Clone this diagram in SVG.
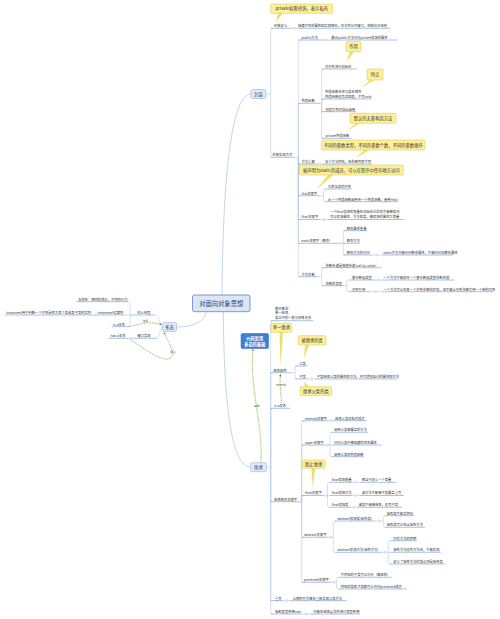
<svg xmlns="http://www.w3.org/2000/svg" width="500" height="619" viewBox="0 0 500 619">
<defs>
<marker id="ah" viewBox="0 0 6 6" refX="5" refY="3" markerWidth="4" markerHeight="4" orient="auto"><path d="M0,0 L6,3 L0,6 z" fill="#5f8a2a"/></marker>
<g id="mi"><circle r="1.2" fill="#fff" stroke="#9aa4b0" stroke-width="0.3"/><path d="M-0.6,0H0.6" stroke="#8a939e" stroke-width="0.3"/></g>
<style>
text{font-family:"Noto Sans CJK SC","Noto Sans",sans-serif;fill:#333}
.t{font-size:3.3px}
.ct{font-size:4.3px;text-anchor:middle}
.nt{font-size:4.4px;fill:#2d4d7c;text-anchor:middle}
.rl{font-size:2.8px;fill:#4a6a20;text-anchor:middle}
.u{stroke:#5d92d4;stroke-width:0.55;fill:none}
.b{stroke:#a9c3e3;stroke-width:0.5;fill:none}
.co{fill:#fcf09a;stroke:#e2c040;stroke-width:0.5}
.tl{fill:#f3dc60;stroke:none}
.nd{fill:#e0eaf7;stroke:#86a6d4;stroke-width:0.5}
.rel{stroke:#5f8a2a;stroke-width:0.6;stroke-dasharray:1.2 0.8;fill:none;marker-end:url(#ah)}
</style>
</defs>
<rect width="500" height="619" fill="#fff"/>

<g id="connectors">
<path class="b" style="stroke-width:0.7" d="M222,295 C223,170 232,94 251,94"/>
<path class="b" style="stroke-width:0.7" d="M206.7,311.7 C203,324 190,327 176.5,327"/>
<path class="b" style="stroke-width:0.7" d="M223.3,311.7 C224,420 234,467 250.5,467"/>
<path class="b" d="M266,94 H270.7 M270.7,94 V30.3 Q270.7,28.3 272.7,28.3 M270.7,94 V155.3 Q270.7,157.3 272.7,157.3 M291.7,28.3 H296.7"/>
<path class="b" d="M295,157.3 H298.3 M298.3,157.3 V42 Q298.3,40 300.3,40 M298.3,157.3 V105.3 Q298.3,103.3 300.3,103.3 M298.3,157.3 V162 Q298.3,164 300.3,164 M298.3,157.3 V193.7 Q298.3,195.7 300.3,195.7 M298.3,157.3 V217.5 Q298.3,219.5 300.3,219.5 M298.3,157.3 V241.3 Q298.3,243.3 300.3,243.3 M298.3,157.3 V274.7 Q298.3,276.7 300.3,276.7"/>
<path class="b" d="M324,40 H329 M320,103.3 H321.7 M321.7,103.3 V71 Q321.7,69 323.7,69 M321.7,103.3 V101 Q321.7,99 323.7,99 M321.7,103.3 V109.7 Q321.7,111.7 323.7,111.7 M321.7,103.3 V136.3 Q321.7,138.3 323.7,138.3 M316.7,164 H322.5"/>
<path class="b" d="M320,195.7 H323.5 M323.5,195.7 V191 Q323.5,189 325.5,189 M323.5,195.7 V199.7 Q323.5,201.7 325.5,201.7 M320,219.5 H328"/>
<path class="b" d="M338,243.3 H345 M343.3,243.3 V232.7 Q343.3,230.7 345.3,230.7 M343.3,243.3 V253 Q343.3,255 345.3,255 M372.7,255 H381.5"/>
<path class="b" d="M318.3,276.7 H321.7 M321.7,276.7 V269.7 Q321.7,267.7 323.7,267.7 M321.7,276.7 V283.7 Q321.7,285.7 323.7,285.7 M343.3,285.7 H346.7 M346.7,285.7 V282 Q346.7,280 348.7,280 M346.7,285.7 V289.7 Q346.7,291.7 348.7,291.7 M375,280 H381.5 M370,291.7 H381.5"/>
<path class="b" d="M162.5,327 C159.5,327 159.5,315 155,315 M162.5,327 C159.5,327 159.5,338.3 156.7,338.3 M134,315 H124.5 M130,315 V303.7 Q130,301.7 128.3,301.7 M130,315 V324.7 Q130,326.7 128.3,326.7 M96.5,315 H93.3 M134,338.3 H128.5"/>
<path class="b" d="M266.5,467 H270.7 M270.7,467 V322.7 Q270.7,320.7 272.7,320.7 M270.7,467 V374.7 Q270.7,372.7 272.7,372.7 M270.7,467 V410.3 Q270.7,408.3 272.7,408.3 M270.7,467 V499.7 Q270.7,501.7 272.7,501.7 M270.7,467 V598.7 Q270.7,600.7 272.7,600.7 M270.7,467 V612 Q270.7,614 272.7,614"/>
<path class="b" d="M291.7,372.7 H295 M295,372.7 V368 Q295,366 297,366 M295,372.7 V377 Q295,379 297,379 M308.3,379 H315"/>
<path class="b" d="M298.3,501.7 H301.7 M301.7,501.7 V422.7 Q301.7,420.7 303.7,420.7 M301.7,501.7 V447 Q301.7,445 303.7,445 M301.7,501.7 V497.5 Q301.7,495.5 303.7,495.5 M301.7,501.7 V535.3 Q301.7,537.3 303.7,537.3 M301.7,501.7 V580.3 Q301.7,582.3 303.7,582.3"/>
<path class="b" d="M328.3,420.7 H332.7 M325,445 H331.7 M330,445 V434.3 Q330,432.3 332,432.3 M330,445 V454.7 Q330,456.7 332,456.7"/>
<path class="b" d="M323.3,495.5 H329 M327.5,495.5 V484.3 Q327.5,482.3 329.5,482.3 M327.5,495.5 V505.3 Q327.5,507.3 329.5,507.3 M352.5,482.3 H360 M352.5,495.5 H360 M351,507.3 H357"/>
<path class="b" d="M328.3,537.3 H333.3 M333.3,537.3 V523 Q333.3,521 335.3,521 M333.3,537.3 V550.3 Q333.3,552.3 335.3,552.3 M375,521 H383.3 M383.3,521 V517.7 Q383.3,515.7 385.3,515.7 M383.3,521 V525.3 Q383.3,527.3 385.3,527.3"/>
<path class="b" d="M381.7,552.3 H390 M388.3,552.3 V542.7 Q388.3,540.7 390.3,540.7 M388.3,552.3 V562 Q388.3,564 390.3,564 M331.7,582.3 H336.5 M336.5,582.3 V579.3 Q336.5,577.3 338.5,577.3 M336.5,582.3 V587 Q336.5,589 338.5,589 M283.3,600.7 H290 M302.5,614 H310"/>
<path class="rel" d="M128.5,326.7 C140,324 150,321 161.5,324.5"/>
<path class="rel" d="M130,339 C148,352 166,364 171.5,357 C175,351 167,340 164,332.5"/>
<path class="rel" d="M260.7,462.7 C264,430 249,385 253,349.3"/>
<path class="rel" d="M281,403 C282,395 279,385 280.5,374.5"/>
<text class="rl" x="145.5" y="322.3">继承</text>
<text class="rl" x="172.8" y="352.6">组合</text>
<text class="rl" x="256.8" y="406.6">基础</text>
<text class="rl" x="281" y="386.2">extends</text>
</g>

<g id="n-root"><rect x="192.5" y="295" width="57.5" height="16.7" rx="2" fill="#dbe6f4" stroke="#5b84c4" stroke-width="0.8"/><text x="221.2" y="305.6" style="font-size:6.3px;fill:#2a4675;text-anchor:middle">对面向对象思想</text></g>

<g id="n-fengzhuang"><rect class="nd" x="251" y="89.5" width="15" height="9" rx="1.5"/><text class="nt" x="258.5" y="95.6">封装</text></g>
<g id="n-duotai"><rect class="nd" x="162.5" y="322.5" width="14" height="9" rx="1.5"/><text class="nt" x="169.5" y="328.6">多态</text></g>
<g id="n-jicheng"><rect class="nd" x="250.5" y="462.7" width="16" height="9" rx="1.5"/><text class="nt" x="258.5" y="468.8">继承</text></g>
<g id="n-blue"><rect x="241" y="333.5" width="27.5" height="15" rx="1.5" fill="#3f7fd1" stroke="#2f69b8" stroke-width="0.5"/><text x="254.7" y="340" style="font-size:4.2px;fill:#fff;text-anchor:middle;font-weight:bold">代码复用</text><text x="254.7" y="345.8" style="font-size:4.2px;fill:#fff;text-anchor:middle;font-weight:bold">多态的基础</text></g>

<g id="callouts">
<g id="c1"><path class="tl" d="M278,13.3 L283,13.3 L276,21.5 z"/><rect class="co" x="270.7" y="4" width="62" height="9.3" rx="1"/><text class="ct" x="301.7" y="10.2">private权限修饰，表示私有</text></g>
<g id="c2"><path class="tl" d="M350,51.7 L354,51.7 L346.5,62 z"/><rect class="co" x="346" y="41.7" width="15" height="10" rx="1"/><text class="ct" x="353.5" y="48.2">作用</text></g>
<g id="c3"><path class="tl" d="M370,80 L374,80 L361,88 z"/><rect class="co" x="367" y="69" width="16" height="11" rx="1"/><text class="ct" x="375" y="76">特点</text></g>
<g id="c4"><path class="tl" d="M356,123.3 L360,123.3 L347,131 z"/><rect class="co" x="350" y="113.3" width="46" height="10" rx="1"/><text class="ct" x="373" y="119.8">默认的无参构造方法</text></g>
<g id="c5"><path class="tl" d="M364,150 L369,150 L356,158 z"/><rect class="co" x="321.7" y="140" width="103.3" height="10" rx="1"/><text class="ct" x="373.35" y="146.5">不同的参数类型，不同的参数个数，不同的参数顺序</text></g>
<g id="c6"><path class="tl" d="M328,175 L333,175 L316,190 z"/><rect class="co" x="299.3" y="165" width="104" height="10" rx="1"/><text class="ct" x="351.3" y="171.5">被声明为static的成员，可以在程序中任何地方访问</text></g>
<g id="c7"><path class="tl" d="M279.5,332.3 L283,332.3 L280.5,366 z"/><rect class="co" x="271" y="323.3" width="20.7" height="9" rx="1"/><text class="ct" x="281.35" y="329.3">单一继承</text></g>
<g id="c8"><path class="tl" d="M305,345 L309,345 L304,358 z"/><rect class="co" x="298.3" y="335.7" width="27.7" height="9.3" rx="1"/><text class="ct" x="312.15" y="341.9">被继承的类</text></g>
<g id="c9"><path class="tl" d="M305,386.7 L309,386.7 L304,381.5 z"/><rect class="co" x="300" y="386.7" width="31.7" height="9" rx="1"/><text class="ct" x="315.85" y="392.7">继承父类的类</text></g>
<g id="c10"><path class="tl" d="M311.5,468.3 L315,468.3 L313,489 z"/><rect class="co" x="302.3" y="460" width="22.7" height="8.3" rx="1"/><text class="ct" x="313.65" y="465.7">阻止继承</text></g>
</g>

<g id="topics">
<g id="t1"><path class="u" d="M270.7,28.3H291.7"/><text class="t" x="274" y="27.2">封装定义</text><use href="#mi" x="294.2" y="28.3"/></g>
<g id="t1a"><path class="u" d="M296.7,28.3H390"/><text class="t" x="298" y="27.2">隐藏对象的属性和实现细节，仅对外公开接口，控制访问级别</text></g>
<g id="t2"><path class="u" d="M270.7,157.3H295"/><text class="t" x="272.5" y="156.2">封装实现方式</text></g>
<g id="t3"><path class="u" d="M298.3,40H324"/><text class="t" x="301.5" y="38.9">public方法</text><use href="#mi" x="326.5" y="40"/></g>
<g id="t4"><path class="u" d="M329,40H398"/><text class="t" x="331" y="38.9">通过public方法访问private修饰的属性</text></g>
<g id="t5"><path class="u" d="M298.3,103.3H320"/><text class="t" x="301.5" y="102.2">构造函数</text></g>
<g id="t6"><path class="u" d="M321.7,69H356.7"/><text class="t" x="325" y="67.9">对对象进行初始化</text></g>
<g id="t7"><path class="u" d="M321.7,99H371.7"/><text class="t" x="325" y="92.6">构造函数名称与类名相同</text><text class="t" x="325" y="97.6">构造函数没有返回值，不写void</text></g>
<g id="t8"><path class="u" d="M321.7,111.7H356"/><text class="t" x="325.5" y="110.6">创建对象时自动调用</text></g>
<g id="t9"><path class="u" d="M321.7,138.3H351.7"/><text class="t" x="325.5" y="137.2">private构造函数</text></g>
<g id="t10"><path class="u" d="M298.3,164H316.7"/><text class="t" x="301.5" y="162.9">方法重载</text><use href="#mi" x="319.6" y="164"/></g>
<g id="t11"><path class="u" d="M322.5,164H372"/><text class="t" x="325" y="162.9">多个方法同名，但参数列表不同</text></g>
<g id="t12"><path class="u" d="M298.3,195.7H320"/><text class="t" x="301.5" y="194.6">this关键字</text></g>
<g id="t13"><path class="u" d="M325,189H351.7"/><text class="t" x="328" y="187.9">代表当前的对象</text></g>
<g id="t14"><path class="u" d="M325,201.7H398"/><text class="t" x="328" y="200.6">从一个构造函数调用另一个构造函数，使用this()</text></g>
<g id="t15"><path class="u" d="M298.3,219.5H320"/><text class="t" x="301.5" y="218.4">final关键字</text><use href="#mi" x="324" y="219.5"/></g>
<g id="t16"><path class="u" d="M328,219.5H404"/><text class="t" x="330" y="212.8">一个final修饰的变量在初始化之后就不能被修改</text><text class="t" x="330" y="217.8">可以修饰属性、方法和类，被修饰的属性为常量</text></g>
<g id="t17"><path class="u" d="M298.3,243.3H338"/><text class="t" x="301" y="242.2">static关键字（静态）</text><use href="#mi" x="340.7" y="243.3"/></g>
<g id="t18"><path class="u" d="M343.3,230.7H366.7"/><text class="t" x="346.7" y="229.6">静态属性变量</text></g>
<g id="t19"><path class="u" d="M343.3,243.3H360"/><text class="t" x="346.7" y="242.2">静态方法</text></g>
<g id="t20"><path class="u" d="M343.3,255H372.7"/><text class="t" x="346.7" y="253.9">静态方法的访问</text><use href="#mi" x="377" y="255"/></g>
<g id="t21"><path class="u" d="M381.5,255H453.3"/><text class="t" x="383.3" y="253.9">static方法只能访问静态属性，不能访问非静态属性</text></g>
<g id="t22"><path class="u" d="M298.3,276.7H318.3"/><text class="t" x="301.5" y="275.6">方法参数</text></g>
<g id="t23"><path class="u" d="M321.7,267.7H381.7"/><text class="t" x="325.5" y="266.6">参数传递是按值传递(call by value)</text></g>
<g id="t24"><path class="u" d="M321.7,285.7H343.3"/><text class="t" x="325.5" y="284.6">参数的类型</text></g>
<g id="t25"><path class="u" d="M349,280H375"/><text class="t" x="352" y="278.9">基本数据类型</text><use href="#mi" x="378.2" y="280"/></g>
<g id="t26"><path class="u" d="M381.5,280H454"/><text class="t" x="383.3" y="278.9">一个方法不能修改一个基本数据类型参数的值</text></g>
<g id="t27"><path class="u" d="M349,291.7H370"/><text class="t" x="352" y="290.6">对象引用</text><use href="#mi" x="375.7" y="291.7"/></g>
<g id="t28"><path class="u" d="M381.5,291.7H493"/><text class="t" x="383.3" y="290.6">一个方法可以改变一个对象参数的状态，但不能让对象参数引用一个新的对象</text></g>

<g id="l1"><path class="u" d="M76.7,301.7H128.3"/><text class="t" x="78" y="300.6">多态性：相同的消息，不同的行为</text></g>
<g id="l2"><path class="u" d="M134,315H155"/><text class="t" x="137.3" y="313.9">向上转型</text><use href="#mi" x="132" y="315"/></g>
<g id="l3"><path class="u" d="M96.5,315H124.5"/><text class="t" x="97.5" y="313.9">instanceof运算符</text><use href="#mi" x="95" y="315"/></g>
<g id="l4"><path class="u" d="M5,315H93.3"/><text class="t" x="6" y="313.9">instanceof用于判断一个对象是否为某个类或其子类的实例</text></g>
<g id="l5"><path class="u" d="M111.7,326.7H128.5"/><text class="t" x="113" y="325.6">is-a关系</text></g>
<g id="l6"><path class="u" d="M134,338.3H156.7"/><text class="t" x="137.3" y="337.2">接口实现</text><use href="#mi" x="131.3" y="338.3"/></g>
<g id="l7"><path class="u" d="M108.3,338.3H128.5"/><text class="t" x="110.5" y="337.2">has-a关系</text></g>

<g id="k1"><path class="u" d="M270.7,320.7H313.3"/><text class="t" x="275" y="309.5">基本概念：</text><text class="t" x="275" y="314.4">单一继承</text><text class="t" x="275" y="319.3">类之间的一般与特殊关系</text></g>
<g id="k2"><path class="u" d="M270.7,372.7H291.7"/><text class="t" x="273.3" y="371.6">继承结构</text></g>
<g id="k3"><path class="u" d="M295,366H307.3"/><text class="t" x="299.3" y="364.9">父类</text></g>
<g id="k4"><path class="u" d="M295,379H308.3"/><text class="t" x="299.3" y="377.9">子类</text><use href="#mi" x="311.6" y="379"/></g>
<g id="k5"><path class="u" d="M315,379H397"/><text class="t" x="316.7" y="377.9">子类继承父类的属性和方法，并可增加自己的属性和方法</text></g>
<g id="k6"><path class="u" d="M270.7,408.3H290"/><text class="t" x="274" y="407.2">is-a关系</text></g>
<g id="k7"><path class="u" d="M270.7,501.7H298.3"/><text class="t" x="274" y="500.6">继承相关关键字</text><use href="#mi" x="300" y="501.7"/></g>
<g id="k8"><path class="u" d="M301.7,420.7H328.3"/><text class="t" x="305" y="419.6">extends关键字</text><use href="#mi" x="330.5" y="420.7"/></g>
<g id="k9"><path class="u" d="M332.7,420.7H366.7"/><text class="t" x="335" y="419.6">继承父类非私有成员</text></g>
<g id="k10"><path class="u" d="M301.7,445H325"/><text class="t" x="305" y="443.9">super关键字</text><use href="#mi" x="327.5" y="445"/></g>
<g id="k11"><path class="u" d="M331.7,432.3H368.3"/><text class="t" x="334" y="431.2">调用父类被覆盖的方法</text></g>
<g id="k12"><path class="u" d="M331.7,445H381.7"/><text class="t" x="334" y="443.9">访问父类中被隐藏的同名属性</text></g>
<g id="k13"><path class="u" d="M331.7,456.7H364"/><text class="t" x="334" y="455.6">调用父类的构造函数</text></g>
<g id="k14"><path class="u" d="M301.7,495.5H323.3"/><text class="t" x="305" y="494.4">final关键字</text><use href="#mi" x="325.8" y="495.5"/></g>
<g id="k15"><path class="u" d="M329.5,482.3H352.5"/><text class="t" x="331.7" y="481.2">final修饰变量</text><use href="#mi" x="355.5" y="482.3"/></g>
<g id="k16"><path class="u" d="M360,482.3H396.7"/><text class="t" x="361.7" y="481.2">相当于定义一个常量</text></g>
<g id="k17"><path class="u" d="M329.5,495.5H352.5"/><text class="t" x="331.7" y="494.4">final修饰方法</text><use href="#mi" x="355.5" y="495.5"/></g>
<g id="k18"><path class="u" d="M360,495.5H404"/><text class="t" x="361.7" y="494.4">该方法不能被子类覆盖重写</text></g>
<g id="k19"><path class="u" d="M329.5,507.3H351"/><text class="t" x="331.7" y="506.2">final修饰类</text><use href="#mi" x="354" y="507.3"/></g>
<g id="k20"><path class="u" d="M357,507.3H402"/><text class="t" x="358.5" y="506.2">该类不能被继承，没有子类</text></g>
<g id="k21"><path class="u" d="M301.7,537.3H328.3"/><text class="t" x="304" y="536.2">abstract关键字</text><use href="#mi" x="330.8" y="537.3"/></g>
<g id="k22"><path class="u" d="M335,521H375"/><text class="t" x="337.3" y="519.9">abstract修饰类(抽象类)</text><use href="#mi" x="379.5" y="521"/></g>
<g id="k23"><path class="u" d="M385,515.7H414"/><text class="t" x="386.7" y="514.6">抽象类不能实例化</text></g>
<g id="k24"><path class="u" d="M385,527.3H425"/><text class="t" x="386.7" y="526.2">抽象类可以包含抽象方法</text></g>
<g id="k25"><path class="u" d="M335,552.3H381.7"/><text class="t" x="337.3" y="551.2">abstract修饰方法(抽象方法)</text><use href="#mi" x="385.3" y="552.3"/></g>
<g id="k26"><path class="u" d="M390,540.7H416.7"/><text class="t" x="393.3" y="539.6">只有方法的声明</text></g>
<g id="k27"><path class="u" d="M390,552.3H441"/><text class="t" x="393.3" y="551.2">抽象方法没有方法体，不能实现</text></g>
<g id="k28"><path class="u" d="M390,564H445"/><text class="t" x="393.3" y="562.9">定义了抽象方法的类必须是抽象类</text></g>
<g id="k29"><path class="u" d="M301.7,582.3H331.7"/><text class="t" x="304" y="581.2">protected关键字</text><use href="#mi" x="334" y="582.3"/></g>
<g id="k30"><path class="u" d="M338.3,577.3H391.7"/><text class="t" x="340.7" y="576.2">不同包的子类可以访问（需继承）</text></g>
<g id="k31"><path class="u" d="M338.3,589H406.7"/><text class="t" x="340.7" y="587.9">同包的类和子类都可以访问protected成员</text></g>
<g id="k32"><path class="u" d="M270.7,600.7H283.3"/><text class="t" x="275" y="599.6">重写</text><use href="#mi" x="286.6" y="600.7"/></g>
<g id="k33"><path class="u" d="M290,600.7H346.7"/><text class="t" x="292.7" y="599.6">以相同方法签名重新实现父类方法</text></g>
<g id="k34"><path class="u" d="M270.7,614H302.5"/><text class="t" x="275" y="612.9">强制类型转换cast</text><use href="#mi" x="306" y="614"/></g>
<g id="k35"><path class="u" d="M310,614H360"/><text class="t" x="313.3" y="612.9">只能在继承层次内进行类型转换</text></g>
</g>
</svg>
